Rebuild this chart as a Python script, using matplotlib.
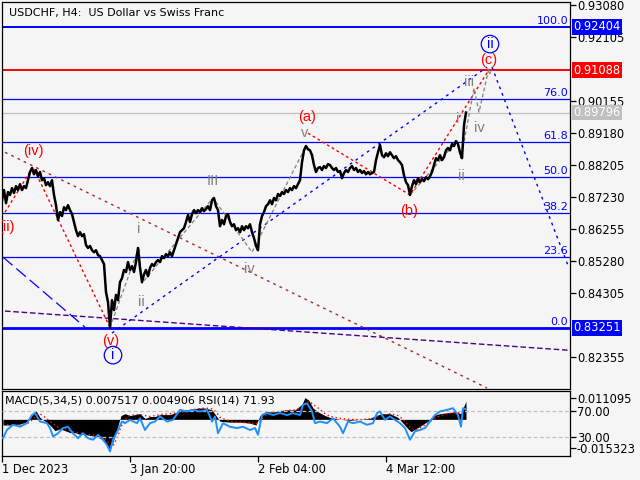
import numpy as np
import pandas as pd
import matplotlib
matplotlib.use("Agg")
import matplotlib.pyplot as plt
import matplotlib.transforms as mtransforms

# ---- price path, USDCHF H4 closes (every 2nd bar, first bar = 2) ----
close = [
    0.8713, 0.8744, 0.8704, 0.8738, 0.8729, 0.8750, 0.8735, 0.8756, 0.8744, 0.8762,
    0.8744, 0.8756, 0.8750, 0.8774, 0.8799, 0.8811, 0.8792, 0.8805, 0.8786, 0.8799,
    0.8774, 0.8780, 0.8759, 0.8768, 0.8756, 0.8774, 0.8729, 0.8698, 0.8653, 0.8677,
    0.8665, 0.8692, 0.8683, 0.8698, 0.8683, 0.8671, 0.8647, 0.8622, 0.8604, 0.8616,
    0.8604, 0.8610, 0.8577, 0.8568, 0.8574, 0.8561, 0.8555, 0.8561, 0.8546, 0.8543,
    0.8531, 0.8519, 0.8434, 0.8403, 0.8326, 0.8409, 0.8379, 0.8425, 0.8409, 0.8464,
    0.8476, 0.8501, 0.8495, 0.8525, 0.8501, 0.8513, 0.8495, 0.8525, 0.8568, 0.8507,
    0.8464, 0.8488, 0.8501, 0.8482, 0.8507, 0.8519, 0.8513, 0.8525, 0.8531, 0.8525,
    0.8543, 0.8537, 0.8549, 0.8543, 0.8555, 0.8543, 0.8561, 0.8580, 0.8598, 0.8616,
    0.8622, 0.8628, 0.8647, 0.8668, 0.8647, 0.8671, 0.8683, 0.8674, 0.8683, 0.8677,
    0.8689, 0.8680, 0.8686, 0.8695, 0.8683, 0.8713, 0.8720, 0.8695, 0.8683, 0.8634,
    0.8653, 0.8640, 0.8665, 0.8671, 0.8647, 0.8634, 0.8640, 0.8622, 0.8628, 0.8616,
    0.8634, 0.8622, 0.8634, 0.8628, 0.8640, 0.8616, 0.8598, 0.8574, 0.8561, 0.8640,
    0.8665, 0.8677, 0.8695, 0.8701, 0.8713, 0.8701, 0.8720, 0.8713, 0.8732, 0.8726,
    0.8738, 0.8732, 0.8744, 0.8738, 0.8750, 0.8744, 0.8756, 0.8750, 0.8762, 0.8774,
    0.8829, 0.8865, 0.8878, 0.8868, 0.8865, 0.8850, 0.8820, 0.8799, 0.8811, 0.8814,
    0.8805, 0.8817, 0.8811, 0.8823, 0.8820, 0.8811, 0.8805, 0.8811, 0.8799, 0.8802,
    0.8780, 0.8796, 0.8805, 0.8799, 0.8811, 0.8817, 0.8805, 0.8811, 0.8799, 0.8805,
    0.8796, 0.8802, 0.8792, 0.8799, 0.8792, 0.8796, 0.8799, 0.8835, 0.8859, 0.8881,
    0.8850, 0.8844, 0.8856, 0.8847, 0.8859, 0.8850, 0.8841, 0.8847, 0.8835, 0.8829,
    0.8820, 0.8789, 0.8768, 0.8759, 0.8729, 0.8756, 0.8774, 0.8762, 0.8780, 0.8768,
    0.8777, 0.8771, 0.8783, 0.8777, 0.8786, 0.8799, 0.8820, 0.8841, 0.8835, 0.8850,
    0.8835, 0.8844, 0.8865, 0.8872, 0.8865, 0.8884, 0.8878, 0.8893, 0.8884, 0.8859,
    0.8841, 0.8941, 0.89796,
]
bar_step = 2
first_bar = 2

# ---- fibonacci grid (0.0 = 0.83251, 100.0 = 0.92404) ----
fib_names = ["100.0", "76.0", "61.8", "50.0", "38.2", "23.6", "0.0"]
fib_prices = [0.92404, 0.90207, 0.88908, 0.87828, 0.86747, 0.85411, 0.83251]
target_price = 0.91088
last_price = 0.89796

price_ticks = [0.93080, 0.92105, 0.90155, 0.89180, 0.88205, 0.87230,
               0.86255, 0.85280, 0.84305, 0.82355]

# ---- wave paths (bar, price) ----
red_iv_v = ([5, 33, 110], [0.8677, 0.8814, 0.8326])
red_abc = ([308, 410, 488], [0.8917, 0.8729, 0.9105])
grey_waves = ([110, 139, 142, 213, 252, 306], [0.8326, 0.8571, 0.8461, 0.8720, 0.8555, 0.8878])
grey_waves2 = ([410, 457, 461, 474, 479, 489], [0.8729, 0.8893, 0.8841, 0.9054, 0.8981, 0.9115])
blue_channel = ([112, 487], [0.8309, 0.9118])
blue_forecast = ([492, 569], [0.9118, 0.8507])
brown_trend = ([5, 487], [0.8859, 0.8142])
purple_trend = ([5, 568], [0.8376, 0.8257])
blue_trend = ([3, 85], [0.8540, 0.8327])

# wave labels: text, bar, price, colour, circled
labels = [
    ("(iv)", 33, 0.8862, "red", False),
    ("(v)", 111, 0.8285, "red", False),
    ("i", 113, 0.8242, "blue", True),
    ("i", 139, 0.8625, "grey", False),
    ("ii", 141, 0.8403, "grey", False),
    ("III", 213, 0.8771, "grey", False),
    ("iv", 249, 0.8504, "grey", False),
    ("v", 305, 0.8917, "grey", False),
    ("(a)", 307, 0.8966, "red", False),
    ("(b)", 409, 0.8680, "red", False),
    ("i", 458, 0.8960, "grey", False),
    ("ii", 461, 0.8786, "grey", False),
    ("iii", 469, 0.9072, "grey", False),
    ("iv", 479, 0.8932, "grey", False),
    ("(c)", 489, 0.9139, "red", False),
    ("ii", 490, 0.9188, "blue", True),
]

# ---- MACD(5,34,5) and RSI(14) ----
macd_bar = [3, 10, 20, 28, 33, 36, 40, 45, 50, 55, 60, 65, 70, 75, 80, 85, 90, 95, 100, 104,
            108, 110, 113, 117, 121, 125, 130, 135, 140, 145, 150, 155, 160, 170, 178, 183, 190, 198, 205, 212,
            216, 220, 230, 240, 250, 256, 260, 265, 275, 285, 295, 302, 305, 309, 313, 318, 325, 330, 340, 350,
            360, 370, 376, 382, 390, 398, 403, 408, 411, 416, 422, 428, 433, 440, 448, 455, 461, 463, 466]
macd_main = [-0.003, -0.003, -0.0025, -0.001, 0.003, 0.0045, 0.001, -0.001, -0.003, -0.006,
             -0.005, -0.006, -0.007, -0.007, -0.008, -0.008, -0.0085, -0.009, -0.010, -0.011,
             -0.015, -0.0155, -0.012, -0.005, 0.002, 0.003, 0.002, 0.0025, 0.003, 0.0005,
             0.0015, 0.0015, 0.0025, 0.0025, 0.004, 0.005, 0.005, 0.006, 0.006, 0.005,
             0.002, -0.001, -0.0015, -0.0015, -0.002, -0.003, 0.002, 0.004, 0.004, 0.005,
             0.005, 0.008, 0.0115, 0.010, 0.006, 0.004, 0.002, 0.001, 0.0, -0.0005,
             0.0, 0.0005, 0.002, 0.003, 0.003, 0.001, -0.002, -0.005, -0.0065, -0.005,
             -0.003, -0.001, 0.002, 0.003, 0.0035, 0.004, 0.003, 0.006, 0.0095]
macd_signal = [-0.002, -0.003, -0.003, -0.002, 0.0, 0.002, 0.003, 0.001, -0.001, -0.003,
               -0.005, -0.005, -0.006, -0.007, -0.007, -0.008, -0.008, -0.0085, -0.009, -0.010,
               -0.012, -0.014, -0.014, -0.010, -0.004, 0.0, 0.002, 0.0025, 0.0025, 0.002,
               0.0015, 0.002, 0.0025, 0.003, 0.0035, 0.004, 0.005, 0.0055, 0.006, 0.0055,
               0.004, 0.001, -0.001, -0.0015, -0.0018, -0.0025, -0.001, 0.002, 0.0038, 0.0045,
               0.005, 0.006, 0.008, 0.0095, 0.008, 0.006, 0.003, 0.0015, 0.0005, 0.0,
               -0.0002, 0.0003, 0.001, 0.002, 0.003, 0.002, 0.0, -0.003, -0.005, -0.0055,
               -0.004, -0.002, 0.0, 0.002, 0.003, 0.0035, 0.0035, 0.004, 0.0049]
rsi_bar = [3, 7, 13, 20, 27, 32, 35, 40, 47, 50, 53, 58, 63, 68, 73, 78, 83, 88, 93, 98,
           103, 107, 110, 113, 118, 122, 125, 130, 137, 140, 145, 150, 155, 160, 167, 173, 180, 187, 193, 200,
           207, 212, 215, 218, 223, 230, 237, 243, 250, 255, 258, 262, 267, 273, 280, 287, 293, 300, 303, 307,
           312, 315, 320, 327, 333, 340, 343, 348, 353, 360, 367, 373, 377, 380, 385, 390, 395, 400, 405, 410,
           415, 420, 425, 430, 435, 440, 447, 453, 458, 461, 463, 466]
rsi = [27.4, 40.3, 48, 45, 50.5, 63, 66, 53, 50.5, 43, 30, 35, 43, 45, 35, 27.4, 35, 27.4, 25, 32.6,
       25, 17, 7, 25, 40, 53, 50.5, 55.6, 50.5, 58, 40, 50.5, 53, 60.8, 53, 55.6, 71, 68.5, 71, 68.5,
       71, 53, 60.8, 35, 50.5, 45, 43, 45, 40, 43, 32.6, 63, 66, 63, 66, 63, 66, 63, 78.7, 81,
       68.5, 50.5, 53, 50.5, 58, 45, 35, 53, 50.5, 53, 48, 50.5, 66, 68.5, 55.6, 60.8, 55.6, 50.5, 43, 25,
       38, 40, 43, 53, 63, 68.5, 71, 73.6, 63, 45, 73.6, 71.93]
macd_top, macd_bottom = 0.011095, -0.015323

date_bars = [2, 130, 258, 386]
date_labels = ["1 Dec 2023", "3 Jan 20:00", "2 Feb 04:00", "4 Mar 12:00"]

BG = "#f5f5f5"
GREY = "#808080"
BLUE = "#0000ff"
WAVE_FONT = ["Liberation Sans", "DejaVu Sans"]

bars = np.arange(len(close)) * bar_step + first_bar
macd = pd.DataFrame({"bar": macd_bar, "main": macd_main, "signal": macd_signal})

fig = plt.figure(figsize=(6.4, 4.8), dpi=100, facecolor=BG)
ax = fig.add_axes([2 / 640, 91 / 480, 568 / 640, 387 / 480], facecolor=BG)
axm = fig.add_axes([2 / 640, 24 / 480, 568 / 640, 65 / 480], facecolor=BG)

XMAX = 570
for a in (ax, axm):
    a.set_xlim(2, XMAX)
    for s in a.spines.values():
        s.set_color("black")
        s.set_linewidth(0.9)

ax.set_ylim(0.8139, 0.9316)

# fib levels
for name, lvl in zip(fib_names, fib_prices):
    lw = 2.0 if name == "0.0" else (1.4 if name == "100.0" else 0.9)
    ax.axhline(lvl, color=BLUE, lw=lw, zorder=2)
    ax.text(568, lvl + 0.0003, name, color=BLUE, fontsize=8, ha="right", va="bottom",
            zorder=5)
ax.axhline(target_price, color="red", lw=1.4, zorder=2)
ax.axhline(last_price, color="#c0c0c0", lw=0.9, zorder=1)

# trend lines and wave paths
ax.plot(*brown_trend, color="#a52a2a", lw=1.0, ls=(0, (2, 3)), zorder=3)
ax.plot(*purple_trend, color="#4b0082", lw=1.0, ls=(0, (4, 2)), zorder=3)
ax.plot(*blue_trend, color=BLUE, lw=0.9, ls=(0, (10, 4)), zorder=3)
ax.plot(*blue_channel, color=BLUE, lw=1.0, ls=(0, (2, 3)), zorder=3)
ax.plot(*blue_forecast, color=BLUE, lw=1.0, ls=(0, (2, 3)), zorder=3)
ax.plot(*red_iv_v, color="red", lw=1.0, ls=(0, (2, 2)), zorder=3)
ax.plot(*red_abc, color="red", lw=1.0, ls=(0, (2, 2)), zorder=3)
ax.plot(*grey_waves, color=GREY, lw=0.9, ls=(0, (3, 2)), zorder=3)
ax.plot(*grey_waves2, color=GREY, lw=0.9, ls=(0, (3, 2)), zorder=3)

ax.plot(bars, close, color="black", lw=1.8, zorder=4)

for txt, b, p, col, circ in labels:
    kw = {}
    if circ:
        kw["bbox"] = dict(boxstyle="circle,pad=0.12", fc="none", ec=BLUE, lw=0.9)
    ax.text(b, p, txt, color=col, fontsize=10.5, ha="center", va="center",
            family=WAVE_FONT, zorder=6, **kw)
ax.text(15, 0.8631, "(ii)", color="red", fontsize=10.5, ha="right", va="center",
        family=WAVE_FONT, zorder=6, clip_on=True)
ax.text(490, 0.9106, "v", color=GREY, fontsize=7, ha="center", va="center", zorder=6)

ax.text(0.012, 0.985, "USDCHF, H4:  US Dollar vs Swiss Franc", transform=ax.transAxes,
        fontsize=8, ha="left", va="top", color="black")

# right price scale
ax.yaxis.tick_right()
ax.set_yticks(price_ticks)
ax.set_yticklabels([f"{t:.5f}" for t in price_ticks])
ax.tick_params(axis="y", direction="out", length=4, width=0.9, labelsize=8.3, pad=1)
ax.set_xticks([])

trans = mtransforms.blended_transform_factory(ax.transAxes, ax.transData)
for p, col in [(0.92404, BLUE), (target_price, "red"), (last_price, "#c0c0c0"), (0.83251, BLUE)]:
    ax.text(1.006, p, f"{p:.5f}", transform=trans, color="white", fontsize=8.3,
            ha="left", va="center", clip_on=False, zorder=7,
            bbox=dict(boxstyle="square,pad=0.12", fc=col, ec="none"))

# MACD panel
axm.set_ylim(-0.0194, 0.0150)
axm.fill_between(macd["bar"], 0, macd["main"], color="black", lw=0)
axm.plot(macd["bar"], macd["signal"], color="red", lw=1.0, ls=(0, (1, 2)))

axr = axm.twinx()
axr.set_ylim(0, 100)
axr.set_xlim(2, XMAX)
axr.axhline(70, color="#c0c0c0", lw=0.9, ls=(0, (3, 2)))
axr.axhline(30, color="#c0c0c0", lw=0.9, ls=(0, (3, 2)))
axr.plot(rsi_bar, rsi, color="#1e90ff", lw=1.4)
axr.set_yticks([70, 30])
axr.set_yticklabels(["70.00", "30.00"])
axr.tick_params(axis="y", direction="out", length=4, width=0.9, labelsize=8.3, pad=1)
for s in axr.spines.values():
    s.set_visible(False)
axr.text(0.006, 0.93, "MACD(5,34,5) 0.007517 0.004906 RSI(14) 71.93", transform=axr.transAxes,
         fontsize=8, ha="left", va="top", color="black")

# twinx moves the MACD ticks to the left, put them back on the right
axm.yaxis.tick_right()
axm.set_yticks([macd_top, macd_bottom])
axm.set_yticklabels([f"{macd_top:.6f}", f"{macd_bottom:.6f}"])
axm.tick_params(axis="y", direction="out", length=4, width=0.9, labelsize=8.3, pad=1)

axm.set_xticks(date_bars)
axm.set_xticklabels(date_labels)
axm.tick_params(axis="x", direction="out", length=4, width=0.9, labelsize=8.3, pad=1)
for lbl in axm.get_xticklabels():
    lbl.set_ha("left")

fig.savefig("out.png", dpi=100, facecolor=BG)
